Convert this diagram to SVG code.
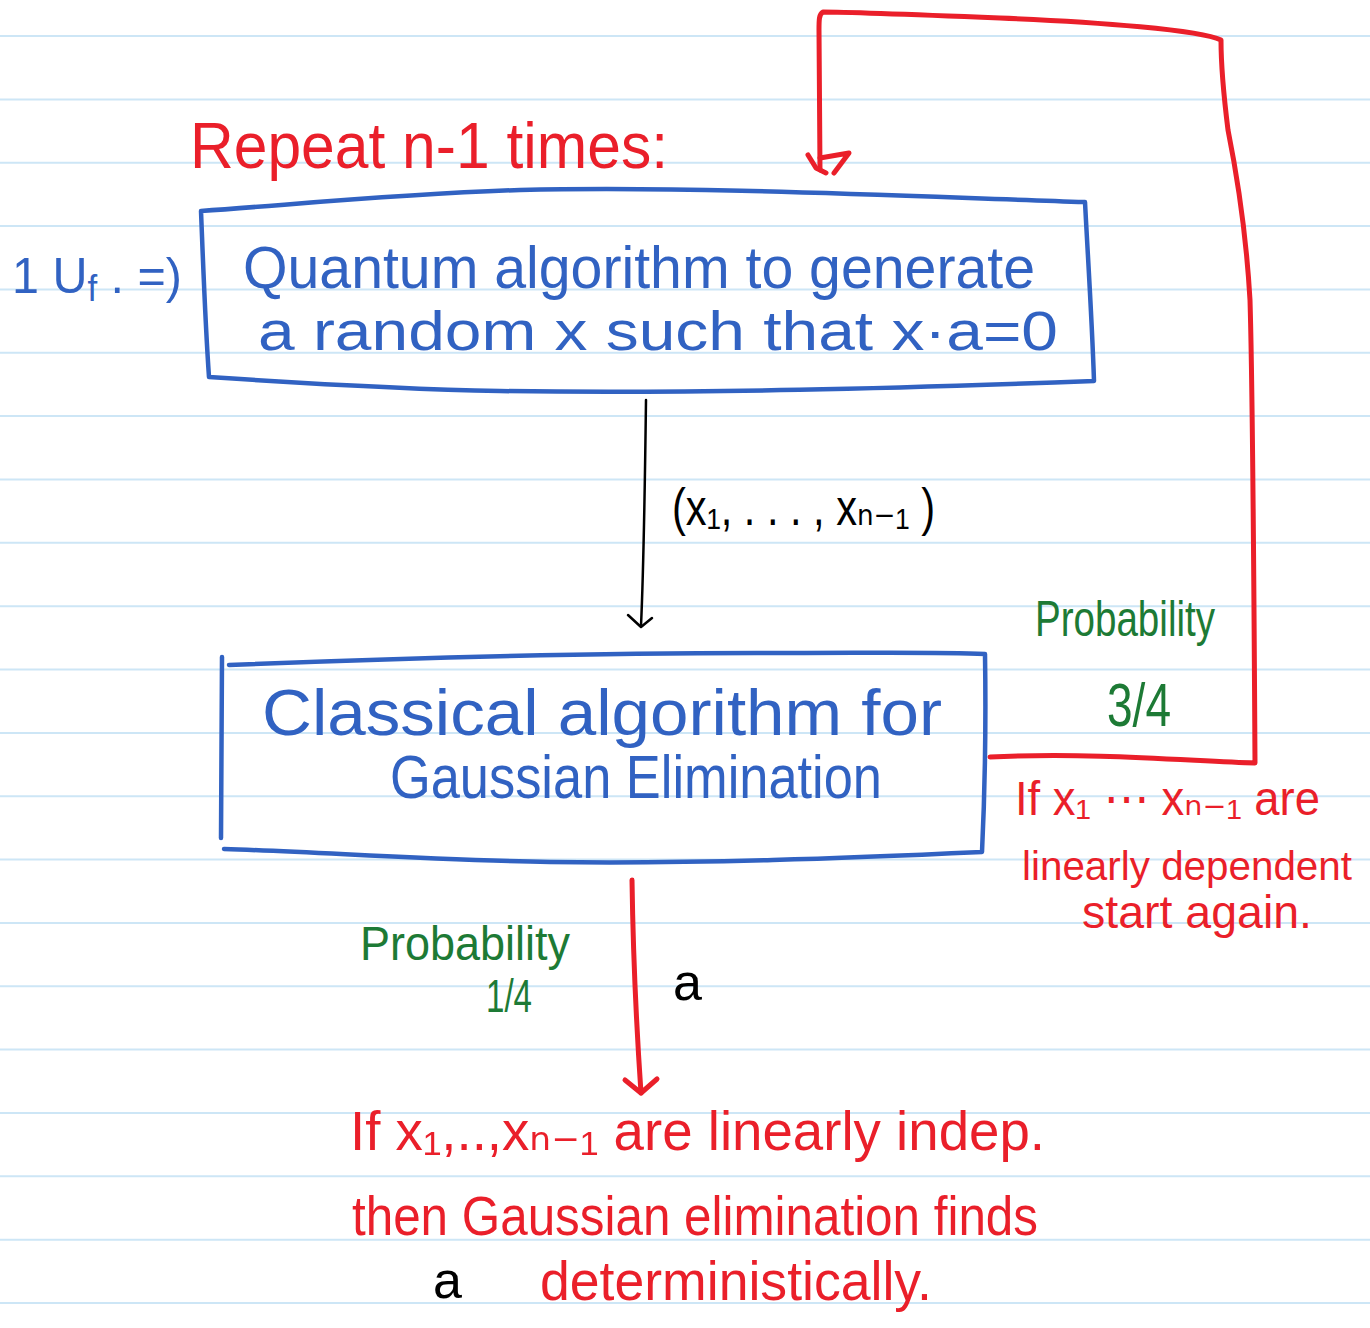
<svg xmlns="http://www.w3.org/2000/svg" width="1370" height="1328" viewBox="0 0 1370 1328">
<style>
.rule{stroke:#cde6f6;stroke-width:2}
.blue{fill:none;stroke:#3162c2;stroke-width:4.5;stroke-linejoin:round;stroke-linecap:round}
.red{fill:none;stroke:#ea1f2a;stroke-width:5;stroke-linejoin:round;stroke-linecap:round}
.blk{fill:none;stroke:#000;stroke-width:2.5;stroke-linejoin:round;stroke-linecap:round}
text{font-family:"Liberation Sans","DejaVu Sans",sans-serif}
.tb{fill:#3162c2}
.tr{fill:#ea1f2a}
.tg{fill:#1d7a35}
.tk{fill:#000}
</style>
<rect width="1370" height="1328" fill="#fff"/>
<g id="rules">
<line class="rule" x1="0" y1="36" x2="1370" y2="36"/>
<line class="rule" x1="0" y1="99.4" x2="1370" y2="99.4"/>
<line class="rule" x1="0" y1="162.7" x2="1370" y2="162.7"/>
<line class="rule" x1="0" y1="226" x2="1370" y2="226"/>
<line class="rule" x1="0" y1="289.4" x2="1370" y2="289.4"/>
<line class="rule" x1="0" y1="352.8" x2="1370" y2="352.8"/>
<line class="rule" x1="0" y1="416.1" x2="1370" y2="416.1"/>
<line class="rule" x1="0" y1="479.5" x2="1370" y2="479.5"/>
<line class="rule" x1="0" y1="542.8" x2="1370" y2="542.8"/>
<line class="rule" x1="0" y1="606.2" x2="1370" y2="606.2"/>
<line class="rule" x1="0" y1="669.5" x2="1370" y2="669.5"/>
<line class="rule" x1="0" y1="732.9" x2="1370" y2="732.9"/>
<line class="rule" x1="0" y1="796.2" x2="1370" y2="796.2"/>
<line class="rule" x1="0" y1="859.6" x2="1370" y2="859.6"/>
<line class="rule" x1="0" y1="922.9" x2="1370" y2="922.9"/>
<line class="rule" x1="0" y1="986.3" x2="1370" y2="986.3"/>
<line class="rule" x1="0" y1="1049.6" x2="1370" y2="1049.6"/>
<line class="rule" x1="0" y1="1113" x2="1370" y2="1113"/>
<line class="rule" x1="0" y1="1176.3" x2="1370" y2="1176.3"/>
<line class="rule" x1="0" y1="1239.7" x2="1370" y2="1239.7"/>
<line class="rule" x1="0" y1="1303" x2="1370" y2="1303"/>
</g>
<g id="connectors">
<path class="red" d="M 990 757 C 1100 752, 1200 762, 1255 763 C 1254 600, 1253 400, 1250 300 C 1246 230, 1238 180, 1228 130 C 1223 90, 1221 60, 1221 40 C 1200 30, 1100 22, 1000 18 C 900 14, 850 12, 823 12 C 819 14, 819 20, 819 30 L 820 170"/>
<path class="red" d="M 808 155 L 816 168 L 826 173 M 820 158 L 849 153 L 834 173"/>
<path class="blk" d="M 646 400 C 645 480, 644 560, 641 626"/>
<path class="blk" d="M 628 615 L 641 627 L 652 618"/>
<path class="red" d="M 632 880 C 633 950, 636 1020, 641 1093"/>
<path class="red" d="M 625 1080 L 641 1093 L 657 1079"/>
</g>
<g id="title">
<text class="tr" x="190" y="168" font-size="64" textLength="478" lengthAdjust="spacingAndGlyphs">Repeat n-1 times:</text>
</g>
<g id="uf-note">
<text class="tb" x="12" y="293" font-size="50" textLength="170" lengthAdjust="spacingAndGlyphs">1 U<tspan font-size="36" dy="8">f</tspan><tspan dy="-8"> . =)</tspan></text>
</g>
<g id="quantum-box">
<path class="blue" d="M 201 211 C 300 204, 400 194, 520 190 C 700 186, 900 196, 1085 202 C 1088 260, 1092 320, 1094 381 C 900 388, 700 394, 500 391 C 400 389, 300 383, 209 377 C 205 320, 203 260, 201 211 Z"/>
<text class="tb" x="243" y="288" font-size="60" textLength="792" lengthAdjust="spacingAndGlyphs">Quantum algorithm to generate</text>
<text class="tb" x="258" y="350" font-size="56" textLength="800" lengthAdjust="spacingAndGlyphs">a  random  x  such that  x·a=0</text>
</g>
<g id="x-label">
<text class="tk" x="672" y="525" font-size="52" textLength="263" lengthAdjust="spacingAndGlyphs">(x₁, . . . , xₙ₋₁ )</text>
</g>
<g id="classical-box">
<path class="blue" d="M 222 657 L 221 838"/>
<path class="blue" d="M 229 665 C 400 658, 600 652, 800 653 C 870 653, 940 652, 985 654 C 986 720, 985 790, 982 852 C 850 858, 700 864, 550 862 C 430 860, 320 852, 224 849"/>
<text class="tb" x="262" y="735" font-size="64" textLength="680" lengthAdjust="spacingAndGlyphs">Classical  algorithm for</text>
<text class="tb" x="390" y="798" font-size="62" textLength="492" lengthAdjust="spacingAndGlyphs">Gaussian  Elimination</text>
</g>
<g id="prob-34">
<text class="tg" x="1035" y="636" font-size="50" textLength="180" lengthAdjust="spacingAndGlyphs">Probability</text>
<text class="tg" x="1107" y="726" font-size="62" textLength="64" lengthAdjust="spacingAndGlyphs">3/4</text>
</g>
<g id="dependent-note">
<text class="tr" x="1015" y="815" font-size="48" textLength="305" lengthAdjust="spacingAndGlyphs">If x₁ ⋯ xₙ₋₁ are</text>
<text class="tr" x="1022" y="880" font-size="41" textLength="330" lengthAdjust="spacingAndGlyphs">linearly dependent</text>
<text class="tr" x="1082" y="928" font-size="46" textLength="230" lengthAdjust="spacingAndGlyphs">start again.</text>
</g>
<g id="prob-14">
<text class="tg" x="360" y="960" font-size="48" textLength="210" lengthAdjust="spacingAndGlyphs">Probability</text>
<text class="tg" x="486" y="1012" font-size="46" textLength="46" lengthAdjust="spacingAndGlyphs">1/4</text>
</g>
<g id="a-label">
<text class="tk" x="673" y="1000" font-size="52">a</text>
</g>
<g id="result-note">
<text class="tr" x="350" y="1150" font-size="56" textLength="695" lengthAdjust="spacingAndGlyphs">If  x₁,..,xₙ₋₁ are linearly indep.</text>
<text class="tr" x="352" y="1235" font-size="56" textLength="686" lengthAdjust="spacingAndGlyphs">then  Gaussian elimination finds</text>
<text class="tk" x="433" y="1298" font-size="52">a</text>
<text class="tr" x="540" y="1300" font-size="56" textLength="392" lengthAdjust="spacingAndGlyphs">deterministically.</text>
</g>
</svg>
